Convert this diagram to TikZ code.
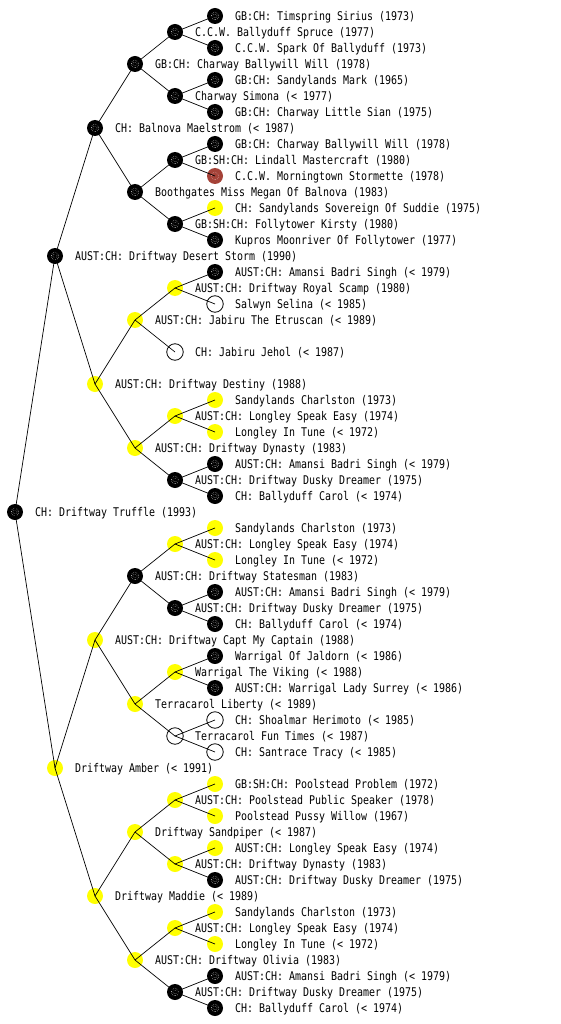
\documentclass[tikz,border=0pt]{standalone}
\usepackage{fontspec}
\newfontfamily\pedfont[FakeStretch=0.83]{DejaVu Sans Mono}
\definecolor{dogred}{RGB}{165,66,56}
\definecolor{dogyellow}{RGB}{255,255,0}
\tikzset{
  dog/.style={circle, inner sep=0pt, minimum size=16pt},
  blk/.style={dog, fill=black,
    path picture={\draw[white, line width=0.5pt, dash pattern=on 0.5pt off 1.3pt]
      (path picture bounding box.center) circle (3.8pt);
      \draw[white, line width=0.5pt, dash pattern=on 0.5pt off 1.5pt]
      (path picture bounding box.center) circle (2pt);}},
  ylw/.style={dog, fill=dogyellow},
  wht/.style={dog, draw=black, line width=0.8pt, minimum size=16.5pt},
  rdd/.style={dog, fill=dogred,
    path picture={\draw[white!70!dogred, line width=0.5pt, dash pattern=on 0.5pt off 1.3pt]
      (path picture bounding box.center) circle (3.8pt);}},
  lbl/.style={anchor=base west, inner sep=0pt, font=\pedfont\fontsize{12}{14}\selectfont},
  link/.style={draw=black, line width=0.7pt}
}
\newcommand\pdog[5]{%
  \node[#4] (n#1) at (#2,#3) {};
  \node[lbl] (t#1) at (#2+20,#3+4.4) {#5};
}
\begin{document}
\begin{tikzpicture}[x=1pt,y=-1pt]
\useasboundingbox[fill=white] (0,0) rectangle (560,1024);
% level 0
\pdog{512}{15}{512}{blk}{CH: Driftway Truffle (1993)}
% level 1
\pdog{256}{55}{256}{blk}{AUST:CH: Driftway Desert Storm (1990)}
\pdog{768}{55}{768}{ylw}{Driftway Amber (< 1991)}
% level 2
\pdog{128}{95}{128}{blk}{CH: Balnova Maelstrom (< 1987)}
\pdog{384}{95}{384}{ylw}{AUST:CH: Driftway Destiny (1988)}
\pdog{640}{95}{640}{ylw}{AUST:CH: Driftway Capt My Captain (1988)}
\pdog{896}{95}{896}{ylw}{Driftway Maddie (< 1989)}
% level 3
\pdog{64}{135}{64}{blk}{GB:CH: Charway Ballywill Will (1978)}
\pdog{192}{135}{192}{blk}{Boothgates Miss Megan Of Balnova (1983)}
\pdog{320}{135}{320}{ylw}{AUST:CH: Jabiru The Etruscan (< 1989)}
\pdog{448}{135}{448}{ylw}{AUST:CH: Driftway Dynasty (1983)}
\pdog{576}{135}{576}{blk}{AUST:CH: Driftway Statesman (1983)}
\pdog{704}{135}{704}{ylw}{Terracarol Liberty (< 1989)}
\pdog{832}{135}{832}{ylw}{Driftway Sandpiper (< 1987)}
\pdog{960}{135}{960}{ylw}{AUST:CH: Driftway Olivia (1983)}
% level 4
\pdog{32}{175}{32}{blk}{C.C.W. Ballyduff Spruce (1977)}
\pdog{96}{175}{96}{blk}{Charway Simona (< 1977)}
\pdog{160}{175}{160}{blk}{GB:SH:CH: Lindall Mastercraft (1980)}
\pdog{224}{175}{224}{blk}{GB:SH:CH: Follytower Kirsty (1980)}
\pdog{288}{175}{288}{ylw}{AUST:CH: Driftway Royal Scamp (1980)}
\pdog{352}{175}{352}{wht}{CH: Jabiru Jehol (< 1987)}
\pdog{416}{175}{416}{ylw}{AUST:CH: Longley Speak Easy (1974)}
\pdog{480}{175}{480}{blk}{AUST:CH: Driftway Dusky Dreamer (1975)}
\pdog{544}{175}{544}{ylw}{AUST:CH: Longley Speak Easy (1974)}
\pdog{608}{175}{608}{blk}{AUST:CH: Driftway Dusky Dreamer (1975)}
\pdog{672}{175}{672}{ylw}{Warrigal The Viking (< 1988)}
\pdog{736}{175}{736}{wht}{Terracarol Fun Times (< 1987)}
\pdog{800}{175}{800}{ylw}{AUST:CH: Poolstead Public Speaker (1978)}
\pdog{864}{175}{864}{ylw}{AUST:CH: Driftway Dynasty (1983)}
\pdog{928}{175}{928}{ylw}{AUST:CH: Longley Speak Easy (1974)}
\pdog{992}{175}{992}{blk}{AUST:CH: Driftway Dusky Dreamer (1975)}
% level 5
\pdog{16}{215}{16}{blk}{GB:CH: Timspring Sirius (1973)}
\pdog{48}{215}{48}{blk}{C.C.W. Spark Of Ballyduff (1973)}
\pdog{80}{215}{80}{blk}{GB:CH: Sandylands Mark (1965)}
\pdog{112}{215}{112}{blk}{GB:CH: Charway Little Sian (1975)}
\pdog{144}{215}{144}{blk}{GB:CH: Charway Ballywill Will (1978)}
\pdog{176}{215}{176}{rdd}{C.C.W. Morningtown Stormette (1978)}
\pdog{208}{215}{208}{ylw}{CH: Sandylands Sovereign Of Suddie (1975)}
\pdog{240}{215}{240}{blk}{Kupros Moonriver Of Follytower (1977)}
\pdog{272}{215}{272}{blk}{AUST:CH: Amansi Badri Singh (< 1979)}
\pdog{304}{215}{304}{wht}{Salwyn Selina (< 1985)}
\pdog{400}{215}{400}{ylw}{Sandylands Charlston (1973)}
\pdog{432}{215}{432}{ylw}{Longley In Tune (< 1972)}
\pdog{464}{215}{464}{blk}{AUST:CH: Amansi Badri Singh (< 1979)}
\pdog{496}{215}{496}{blk}{CH: Ballyduff Carol (< 1974)}
\pdog{528}{215}{528}{ylw}{Sandylands Charlston (1973)}
\pdog{560}{215}{560}{ylw}{Longley In Tune (< 1972)}
\pdog{592}{215}{592}{blk}{AUST:CH: Amansi Badri Singh (< 1979)}
\pdog{624}{215}{624}{blk}{CH: Ballyduff Carol (< 1974)}
\pdog{656}{215}{656}{blk}{Warrigal Of Jaldorn (< 1986)}
\pdog{688}{215}{688}{blk}{AUST:CH: Warrigal Lady Surrey (< 1986)}
\pdog{720}{215}{720}{wht}{CH: Shoalmar Herimoto (< 1985)}
\pdog{752}{215}{752}{wht}{CH: Santrace Tracy (< 1985)}
\pdog{784}{215}{784}{ylw}{GB:SH:CH: Poolstead Problem (1972)}
\pdog{816}{215}{816}{ylw}{Poolstead Pussy Willow (1967)}
\pdog{848}{215}{848}{ylw}{AUST:CH: Longley Speak Easy (1974)}
\pdog{880}{215}{880}{blk}{AUST:CH: Driftway Dusky Dreamer (1975)}
\pdog{912}{215}{912}{ylw}{Sandylands Charlston (1973)}
\pdog{944}{215}{944}{ylw}{Longley In Tune (< 1972)}
\pdog{976}{215}{976}{blk}{AUST:CH: Amansi Badri Singh (< 1979)}
\pdog{1008}{215}{1008}{blk}{CH: Ballyduff Carol (< 1974)}
% connectors
\foreach \p/\c in {512/256,512/768,
  256/128,256/384,768/640,768/896,
  128/64,128/192,384/320,384/448,640/576,640/704,896/832,896/960,
  64/32,64/96,192/160,192/224,320/288,320/352,448/416,448/480,
  576/544,576/608,704/672,704/736,832/800,832/864,960/928,960/992,
  32/16,32/48,96/80,96/112,160/144,160/176,224/208,224/240,
  288/272,288/304,416/400,416/432,480/464,480/496,544/528,544/560,
  608/592,608/624,672/656,672/688,736/720,736/752,800/784,800/816,
  864/848,864/880,928/912,928/944,992/976,992/1008}
  \draw[link] (n\p.center) -- (n\c.center);
\end{tikzpicture}
\end{document}
